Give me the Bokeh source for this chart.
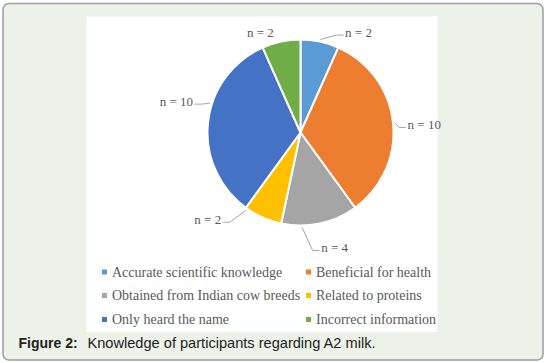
import math
from bokeh.plotting import figure
from bokeh.models import Range1d
from bokeh.core.properties import value
from bokeh.embed import file_html
from bokeh.resources import INLINE

# ---------------- data ----------------
categories = ["Accurate scientific knowledge", "Beneficial for health",
              "Obtained from Indian cow breeds", "Related to proteins",
              "Only heard the name", "Incorrect information"]
counts = [2, 10, 4, 2, 10, 2]
colors = ["#5B9BD5", "#ED7D31", "#A5A5A5", "#FFC000", "#4472C4", "#70AD47"]
caption_bold = "Figure 2:"
caption_text = "Knowledge of participants regarding A2 milk."

# ---------------- layout (pixel coordinates, y measured down) ----------------
FW, FH = 546, 363
def Y(y):
    return FH - y

cx, cy, R = 300, 132, 93
label_dist = [116, 124, 120, 127, 128, 108]
label_shift = [18, 2.3, -4.5, 22.9, 8.2, -9.8]   # degrees relative to slice mid-angle
leader_shift = [0, 0, 11, 11, 12, 0]             # degrees relative to slice mid-angle
LABEL_PX = 13

p = figure(width=FW, height=FH, x_range=Range1d(0, FW), y_range=Range1d(0, FH),
           output_backend="svg", toolbar_location=None, min_border=0,
           x_axis_location=None, y_axis_location=None)
p.grid.visible = False
p.outline_line_color = None
p.background_fill_color = "white"
p.border_fill_color = "white"

# outer rounded frame
p.quad(left=[2.5], right=[542.5], top=[Y(3)], bottom=[Y(359.5)],
       fill_color="#edf2e8", line_color="#9d9d9d", line_width=1.5, border_radius=6)
# white chart panel
p.quad(left=[86], right=[437], top=[Y(16)], bottom=[Y(331.5)],
       fill_color="white", line_color=None)

# pie
total = sum(counts)
cum = [0]
for c in counts:
    cum.append(cum[-1] + c)
starts = [math.pi / 2 - 2 * math.pi * cum[i] / total for i in range(len(counts))]
ends = [math.pi / 2 - 2 * math.pi * cum[i + 1] / total for i in range(len(counts))]
p.wedge(x=cx, y=Y(cy), radius=R, radius_units="screen",
        start_angle=starts, end_angle=ends, direction="clock",
        fill_color=colors, line_color="white", line_width=2)

# data labels with leader lines
cw = {"n": 0.5, " ": 0.25, "=": 0.564}
lx, ly, lt = [], [], []
for i, c in enumerate(counts):
    mid = 360.0 * (cum[i] + c / 2) / total
    a = math.radians(mid + label_shift[i])
    tx = cx + label_dist[i] * math.sin(a)
    ty = cy - label_dist[i] * math.cos(a)
    txt = "n = %d" % c
    lx.append(tx); ly.append(Y(ty)); lt.append(txt)
    w = sum(cw.get(ch, 0.5) for ch in txt) * LABEL_PX
    am = math.radians(mid + leader_shift[i])
    sx = cx + (R + 2) * math.sin(am)
    sy = cy - (R + 2) * math.cos(am)
    side = 1 if tx > cx else -1
    ex = tx - side * (w / 2 + 1.5)
    ey = ty + 3
    if math.hypot(ex - sx, ey - sy) < 10:
        continue
    bx = ex - side * 7
    p.line(x=[sx, bx, ex], y=[Y(sy), Y(ey), Y(ey)], line_color="#a6a6a6", line_width=1)

p.text(x=lx, y=ly, text=lt, text_font=value("Liberation Serif"),
       text_font_size="%dpx" % LABEL_PX, text_align="center", text_baseline="middle",
       text_color="#595959")

# legend (two columns)
col_x = [104, 308]
row_y = [271.5, 295, 319]
mx, my, tx_, ty_ = [], [], [], []
for i, name in enumerate(categories):
    col, row = i % 2, i // 2
    mx.append(col_x[col]); my.append(Y(row_y[row]))
    tx_.append(col_x[col] + 7.5); ty_.append(Y(row_y[row]))
p.scatter(x=mx, y=my, marker="square", size=5, fill_color=colors, line_color=None)
p.text(x=tx_, y=ty_, text=categories, text_font=value("Liberation Serif"),
       text_font_size="14px", text_align="left", text_baseline="middle",
       text_color="#595959")

# caption
p.text(x=[18], y=[Y(342)], text=[caption_bold], text_font=value("Liberation Sans"),
       text_font_size="14px", text_font_style="bold", text_align="left",
       text_baseline="middle", text_color="#222222")
p.text(x=[87], y=[Y(342)], text=[caption_text], text_font=value("Liberation Sans"),
       text_font_size="14.6px", text_align="left", text_baseline="middle",
       text_color="#222222")

open("out.html", "w").write(file_html(p, INLINE))
